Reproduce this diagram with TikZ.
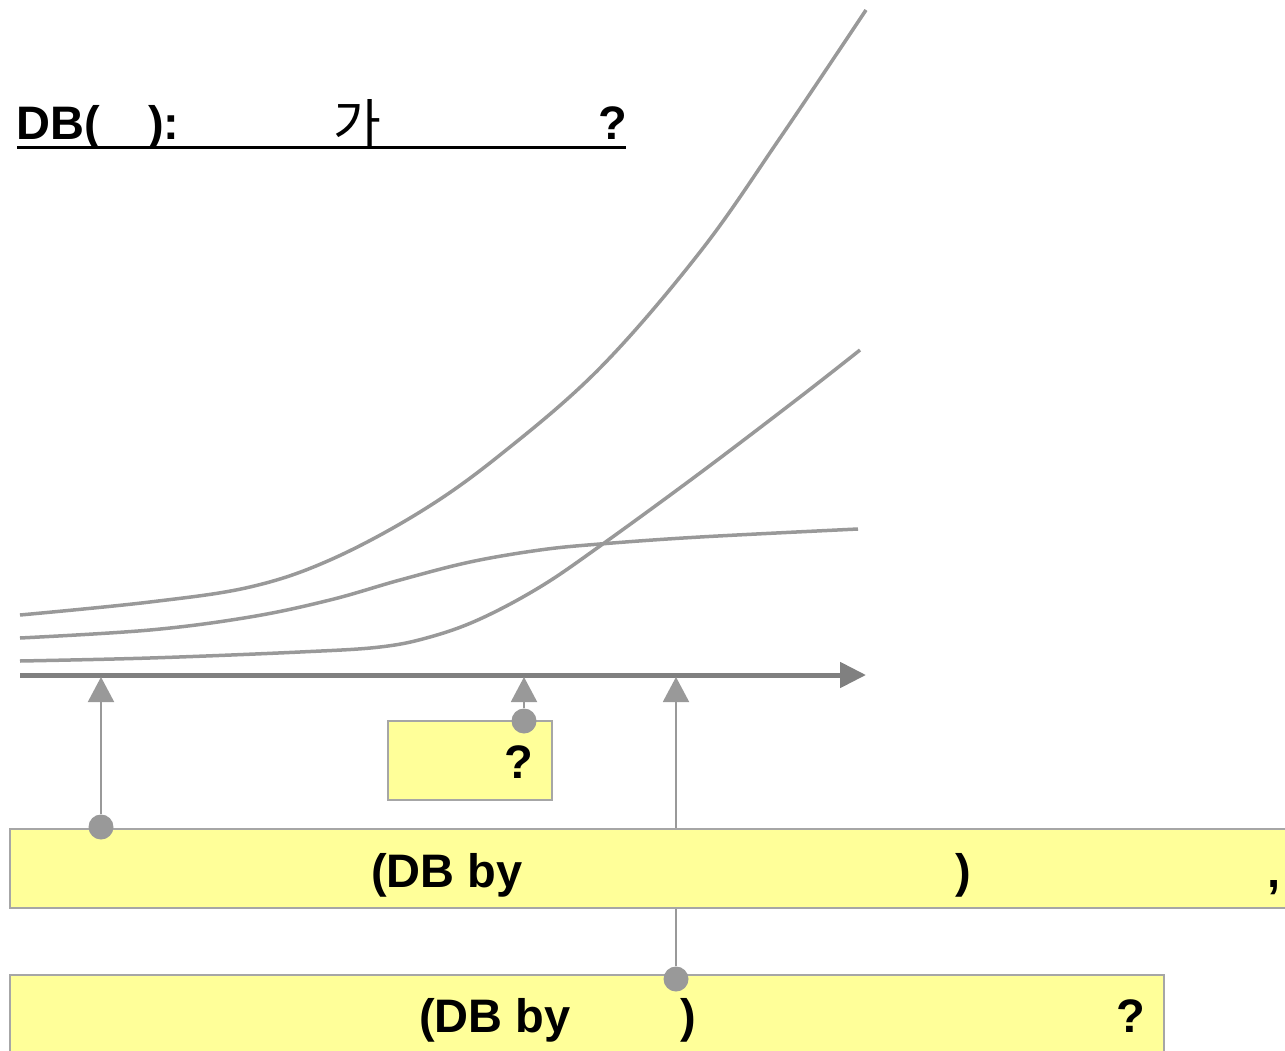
\documentclass[tikz,border=0pt]{standalone}
\usepackage{fontspec}
\setmainfont{Liberation Sans}
\newfontfamily\krfont{Noto Sans CJK KR}
\usetikzlibrary{arrows.meta}
\definecolor{curvegray}{HTML}{999999}
\definecolor{axisgray}{HTML}{808080}
\definecolor{boxfill}{HTML}{FFFF99}
\definecolor{boxline}{HTML}{A6A6A6}
\tikzset{
  curve/.style={draw=curvegray, line width=3.5pt, smooth, tension=0.6},
  ybox/.style={draw=boxline, fill=boxfill, line width=2pt, inner sep=0pt},
  lbl/.style={anchor=base west, inner sep=0pt, font=\fontsize{47}{56}\selectfont\bfseries},
  dotnode/.style={circle, fill=curvegray, inner sep=0pt, minimum size=25pt},
  conn/.style={draw=curvegray, line width=2pt, -{Triangle[length=25pt,width=26pt]}},
}
\begin{document}
\begin{tikzpicture}[x=1pt,y=-1pt]
\useasboundingbox (0,0) rectangle (1285,1051);
% curves
\draw[curve] plot coordinates {(20,615) (150,602) (250,587) (330,560) (420,512) (500,455) (600,368) (700,252) (780,138) (866,10)};
\draw[curve] plot coordinates {(20,638) (150,630) (250,617) (330,600) (400,580) (470,562) (540,550) (600,544) (700,537) (858,529)};
\draw[curve] plot coordinates {(20,661) (150,658) (300,652) (380,647) (430,637) (480,619) (540,587) (600,546) (700,473) (800,397) (860,350)};
% axis
\coordinate (ax0) at (20,675);
\coordinate (ax1) at (866,675);
\draw[draw=axisgray, line width=5pt, -{Triangle[length=26pt,width=25pt]}] (ax0) -- (ax1);
\coordinate (t1) at (101,677);
\coordinate (t2) at (524,677);
\coordinate (t3) at (676,677);
% title
\node[lbl] (tA) at (16,140) {DB(};
\node[lbl] (tB) at (148,140) {):};
\node[lbl, font=\fontsize{52}{60}\selectfont\krfont] (tC) at (333,143) {가};
\node[lbl] (tD) at (598,140) {?};
\coordinate (ul0) at (17,148);
\coordinate (ul1) at (626,148);
\draw[line width=3pt] (ul0) -- (ul1);
% box 2
\node[ybox, minimum width=1154pt, minimum height=86pt] (box2) at (587,1018) {};
\node[dotnode] (d3) at (676,979) {};
\draw[conn] (d3) -- (t3);
% box 1
\node[ybox, minimum width=1285pt, minimum height=79pt] (box1) at (652.5,868.5) {};
\node[dotnode] (d1) at (101,827) {};
\draw[conn] (d1) -- (t1);
% small box
\node[ybox, minimum width=164pt, minimum height=79pt] (box3) at (470,760.5) {};
\node[dotnode] (d2) at (524,721) {};
\draw[conn] (d2) -- (t2);
% box texts
\node[lbl] (s1) at (504,778) {?};
\node[lbl] (b1a) at (371,887) {(DB by};
\node[lbl] (b1b) at (955,887) {)};
\node[lbl] (b1c) at (1267,887) {,};
\node[lbl] (b2a) at (419,1032) {(DB by};
\node[lbl] (b2b) at (680,1032) {)};
\node[lbl] (b2c) at (1116,1032) {?};
\end{tikzpicture}
\end{document}
